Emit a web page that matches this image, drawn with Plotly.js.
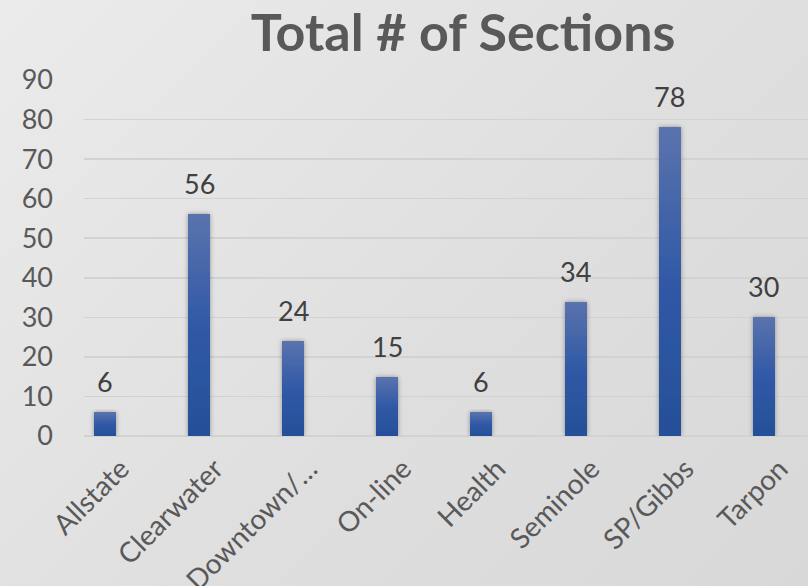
<!DOCTYPE html>
<html>
<head>
<meta charset="utf-8">
<script src="https://cdn.plot.ly/plotly-3.0.1.min.js"></script>
<style>
html,body{margin:0;padding:0;}
body{width:808px;height:586px;background:linear-gradient(135deg,#ebebeb 0%,#e0dfe0 55%,#d8d8d8 100%);}
#chart{width:808px;height:586px;}
</style>
</head>
<body>
<div id="chart"></div>
<script>
var categories = ["Allstate", "Clearwater", "Downtown/…", "On-line", "Health", "Seminole", "SP/Gibbs", "Tarpon"];
var sections = [6, 56, 24, 15, 6, 34, 78, 30];
var yTicks = [0, 10, 20, 30, 40, 50, 60, 70, 80, 90];

var FONT = "Lato, 'Noto Sans', sans-serif";
var idx = categories.map(function(c, i){ return i; });

var trace = {
  type: "bar",
  x: idx,
  y: sections,
  width: 0.234,
  marker: {color: "#33589f", line: {width: 0}},
  hoverinfo: "none"
};

var annotations = idx.map(function(i){
  return {
    x: i, y: sections[i], xref: "x", yref: "y",
    text: String(sections[i]), showarrow: false,
    yanchor: "bottom", xanchor: "center", yshift: 12,
    font: {family: FONT, size: 27, color: "#404040"}
  };
});

var layout = {
  width: 808, height: 586,
  margin: {l: 84, r: 0, t: 80, b: 150},
  paper_bgcolor: "rgba(0,0,0,0)",
  plot_bgcolor: "rgba(0,0,0,0)",
  showlegend: false,
  title: {
    text: "<b>Total # of Sections</b>",
    font: {family: FONT, size: 52, color: "#595959"},
    x: 0.573, xanchor: "center", xref: "container",
    y: 1 - 33/586, yanchor: "middle", yref: "container"
  },
  annotations: annotations,
  xaxis: {
    range: [-0.223, 7.47],
    tickmode: "array",
    tickvals: idx,
    ticktext: categories,
    tickangle: -45,
    tickfont: {family: FONT, size: 28, color: "#595959"},
    showgrid: false, zeroline: false, showline: false, ticks: "",
    ticklabelstandoff: 10,
    ticklabelshift: 16
  },
  yaxis: {
    range: [0, 90],
    tickmode: "array",
    tickvals: yTicks,
    ticktext: yTicks.map(String),
    tickfont: {family: FONT, size: 27, color: "#595959"},
    gridcolor: "#d2d2d2", gridwidth: 1.5,
    zeroline: true, zerolinecolor: "#d2d2d2", zerolinewidth: 1.5,
    showline: false, ticks: "",
    ticklabelstandoff: 30
  },
  bargap: 0
};

Plotly.newPlot("chart", [trace], layout, {staticPlot: true, displayModeBar: false}).then(function(gd){
  var svg = gd.querySelector("svg.main-svg");
  var ns = "http://www.w3.org/2000/svg";
  var defs = svg.querySelector("defs") || svg.insertBefore(document.createElementNS(ns, "defs"), svg.firstChild);
  var g = document.createElementNS(ns, "linearGradient");
  g.setAttribute("id", "barGrad");
  g.setAttribute("x1", "0"); g.setAttribute("y1", "0");
  g.setAttribute("x2", "0"); g.setAttribute("y2", "1");
  [["0%", "#5a73ad"], ["50%", "#3059a6"], ["100%", "#264f99"]].forEach(function(s){
    var st = document.createElementNS(ns, "stop");
    st.setAttribute("offset", s[0]); st.setAttribute("stop-color", s[1]);
    g.appendChild(st);
  });
  defs.appendChild(g);
  var f = document.createElementNS(ns, "filter");
  f.setAttribute("id", "barShadow");
  f.setAttribute("x", "-50%"); f.setAttribute("y", "-10%");
  f.setAttribute("width", "200%"); f.setAttribute("height", "120%");
  var ds = document.createElementNS(ns, "feDropShadow");
  ds.setAttribute("dx", "0"); ds.setAttribute("dy", "0");
  ds.setAttribute("stdDeviation", "2.5"); ds.setAttribute("flood-color", "#000");
  ds.setAttribute("flood-opacity", "0.35");
  f.appendChild(ds);
  defs.appendChild(f);
  gd.querySelectorAll(".bars .point path").forEach(function(p){
    p.style.fill = "url(#barGrad)";
    p.setAttribute("filter", "url(#barShadow)");
  });
});
</script>
</body>
</html>
